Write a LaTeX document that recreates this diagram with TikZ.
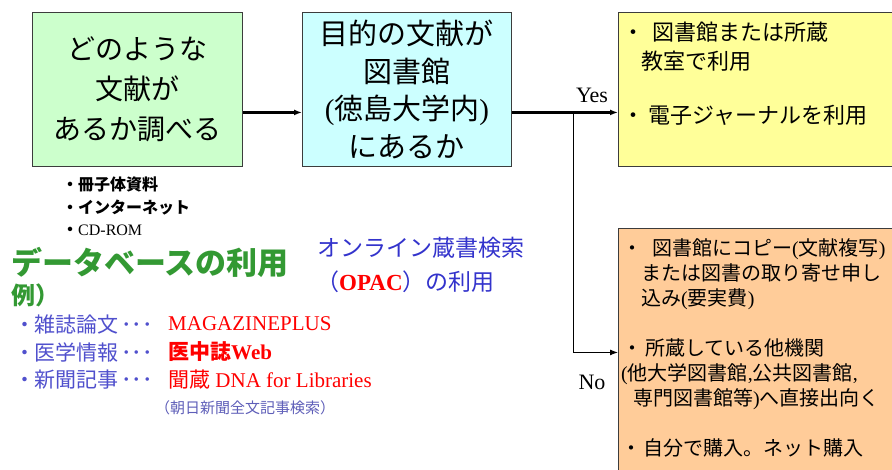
\documentclass[tikz,border=0pt]{standalone}
\usepackage{fontspec}
\setmainfont{Liberation Serif}
\newfontfamily\jp{Noto Sans CJK JP}
\usetikzlibrary{arrows.meta}
\definecolor{boxgreen}{RGB}{204,255,204}
\definecolor{boxcyan}{RGB}{204,255,255}
\definecolor{boxyellow}{RGB}{255,255,153}
\definecolor{boxorange}{RGB}{255,204,153}
\definecolor{headgreen}{RGB}{51,153,51}
\definecolor{headblue}{RGB}{51,51,204}
\definecolor{listblue}{RGB}{80,80,205}
\definecolor{noteblue}{RGB}{95,95,185}
\definecolor{linkred}{RGB}{255,0,0}
\definecolor{edgegray}{RGB}{60,60,60}
\newcommand\latn[1]{{\rmfamily #1}}
\newcommand\bulw[1]{\makebox[#1][c]{・}}
\begin{document}
\begin{tikzpicture}[x=1pt,y=-1pt,
  box/.style={draw=edgegray, line width=0.9pt, anchor=north west, inner sep=0pt, align=center},
  txt/.style={inner sep=0pt, anchor=west},
  blk/.style={inner sep=0pt, anchor=north west, align=left},
  arr/.style={-{Latex[length=8pt,width=6pt]}, line width=2.3pt},
  thinarr/.style={-{Latex[length=8pt,width=6pt]}, line width=1pt}]
\useasboundingbox (0,0) rectangle (892,470);
\clip (0,0) rectangle (892,470);
\fill[white] (0,0) rectangle (892,470);

% boxes
\node[box, fill=boxgreen, minimum width=210pt, minimum height=154pt,
  font=\jp\fontsize{28}{40}\selectfont] (b1) at (32,12)
  {どのような\\文献が\\あるか調べる};
\node[box, fill=boxcyan, minimum width=209pt, minimum height=154pt,
  font=\jp\fontsize{29}{37.5}\selectfont] (b2) at (302,12)
  {目的の文献が\\図書館\\\latn{(}徳島大学内\latn{)}\\にあるか};
\node[box, fill=boxyellow, minimum width=300pt, minimum height=154pt] (b3) at (618,12) {};
\node[box, fill=boxorange, minimum width=300pt, minimum height=248pt] (b4) at (618,228) {};

% box texts
\node[blk, font=\jp\fontsize{22}{29}\selectfont] (t3) at (627,22)
  {\bulw{12pt}\hspace{13pt}図書館または所蔵\\
   \hspace*{14pt}教室で利用\\[25pt]
   \bulw{12pt}\hspace{9pt}電子ジャーナルを利用};
\node[blk, font=\jp\fontsize{20}{25}\selectfont] (t4) at (621,238)
  {\bulw{22pt}\hspace{9pt}図書館にコピー\latn{(}文献複写\latn{)}\\
   \hspace*{20pt}または図書の取り寄せ申し\\
   \hspace*{20pt}込み\latn{(}要実費\latn{)}\\[25pt]
   \bulw{22pt}\hspace{2pt}所蔵している他機関\\
   \latn{(}他大学図書館\latn{,}公共図書館\latn{,}\\
   \hspace*{12pt}専門図書館等\latn{)}へ直接出向く\\[25pt]
   \bulw{20pt}\hspace{2pt}自分で購入。ネット購入};

% connectors
\draw[arr] ([yshift=-23pt]b1.east) -- ([yshift=-23pt]b2.west);
\draw[arr] ([yshift=-23pt]b2.east) -- ([yshift=-23pt]b3.west);
\coordinate (j) at (573,112);
\draw[thinarr] (j) |- (b4.west);
\node[font=\fontsize{22}{26}\selectfont, inner sep=0pt] (yes) at (592,95) {Yes};
\node[font=\fontsize{22}{26}\selectfont, inner sep=0pt] (no) at (592,382) {No};

% media list
\node[blk, font=\jp\bfseries\fontsize{16}{22.5}\selectfont] (media) at (62,177)
  {・冊子体資料\\・インターネット\\・\latn{\mdseries CD-ROM}};

% database heading
\node[txt, font=\jp\bfseries\fontsize{31}{34}\selectfont, text=headgreen] (h1) at (11,262) {データベースの利用};
\node[txt, font=\jp\bfseries\fontsize{24}{28}\selectfont, text=headgreen] (h1b) at (11,295) {例）};

% OPAC heading
\node[txt, font=\jp\fontsize{23}{28}\selectfont, text=headblue] (h2) at (317,248) {オンライン蔵書検索};
\node[txt, font=\jp\fontsize{23}{28}\selectfont, text=headblue] (h2b) at (316,282)
  {（\textcolor{linkred}{\rmfamily\bfseries OPAC}）の利用};

% list rows
\node[txt, font=\jp\fontsize{21}{25}\selectfont, text=listblue] (l1) at (20,324) {\bulw{10pt}\hspace{4pt}雑誌論文\hspace{3pt}･･･};
\node[txt, font=\jp\fontsize{21}{25}\selectfont, text=listblue] (l2) at (20,352) {\bulw{10pt}\hspace{4pt}医学情報\hspace{3pt}･･･};
\node[txt, font=\jp\fontsize{21}{25}\selectfont, text=listblue] (l3) at (20,380) {\bulw{10pt}\hspace{4pt}新聞記事\hspace{3pt}･･･};
\node[txt, font=\fontsize{21}{25}\selectfont, text=linkred] (r1) at (168,324) {MAGAZINEPLUS};
\node[txt, font=\fontsize{21}{25}\selectfont\bfseries, text=linkred] (r2) at (168,352) {{\jp\bfseries 医中誌}Web};
\node[txt, font=\fontsize{21}{25}\selectfont, text=linkred] (r3) at (168,380) {{\jp 聞蔵} DNA for Libraries};
\node[txt, font=\jp\fontsize{15}{18}\selectfont, text=noteblue] (r3b) at (155,408) {（朝日新聞全文記事検索）};
\end{tikzpicture}
\end{document}
